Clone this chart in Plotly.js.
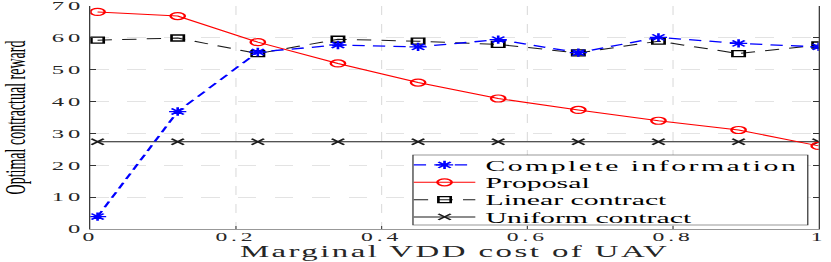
<!DOCTYPE html>
<html>
<head>
<meta charset="utf-8">
<script src="https://cdn.plot.ly/plotly-3.0.1.min.js"></script>
<style>
  html, body { margin: 0; padding: 0; overflow: hidden; background: #fff; }
  #chart { width: 405px; height: 262px; transform: scaleX(2.0519); transform-origin: 0 0; }
  .legendtext { letter-spacing: 1.2px; }
  .xtitle { letter-spacing: 1.2px; }
  .xtick text, .ytick text { letter-spacing: 1.9px; }
</style>
</head>
<body>
<div id="chart"></div>
<script>
// Data
const costX = [0.01, 0.12, 0.23, 0.34, 0.45, 0.56, 0.67, 0.78, 0.89, 1.0];
const completeInfo = [3.9, 36.9, 55.6, 57.8, 57.2, 59.5, 55.4, 60.2, 58.3, 57.2];
const proposal = [68.2, 66.9, 58.7, 52.0, 46.0, 41.0, 37.4, 34.0, 31.1, 26.1];
const linearContract = [59.3, 60.0, 55.1, 59.6, 59.0, 58.0, 55.3, 59.0, 55.1, 57.8];
const uniformContract = [27.4, 27.4, 27.4, 27.4, 27.4, 27.4, 27.4, 27.4, 27.4, 27.4];
const xTickVals = [0, 0.2, 0.4, 0.6, 0.8, 1];
const xTickText = ['0', '0.2', '0.4', '0.6', '0.8', '1'];
const yTickVals = [0, 10, 20, 30, 40, 50, 60, 70];
const yTickText = ['0', '10', '20', '30', '40', '50', '60', '70'];
const seriesNames = ['Complete information', 'Proposal', 'Linear contract', 'Uniform contract'];

const FONT = 'Liberation Serif, Times New Roman, serif';

const traces = [
  {
    x: costX, y: uniformContract, name: seriesNames[3], legend: 'legend4',
    mode: 'lines+markers', type: 'scatter',
    line: {color: '#1a1a1a', width: 1},
    marker: {symbol: 'x-thin-open', size: 6, color: '#1a1a1a', line: {color: '#1a1a1a', width: 1.3}}
  },
  {
    x: costX, y: linearContract, name: seriesNames[2], legend: 'legend3',
    mode: 'lines+markers', type: 'scatter',
    line: {color: '#1a1a1a', width: 1, dash: '7px,5px'},
    marker: {symbol: 'square-open', size: 6, color: '#000', line: {color: '#000', width: 1.3}}
  },
  {
    x: costX, y: proposal, name: seriesNames[1], legend: 'legend2',
    mode: 'lines+markers', type: 'scatter',
    line: {color: '#ff0000', width: 1},
    marker: {symbol: 'circle-open', size: 7, color: '#ff0000', line: {color: '#ff0000', width: 1.2}}
  },
  {
    x: costX, y: completeInfo, name: seriesNames[0], legend: 'legend',
    mode: 'lines+markers', type: 'scatter',
    line: {color: '#0000ff', width: 1.3, dash: '6px,4px'},
    marker: {symbol: 'asterisk-open', size: 7, color: '#0000ff', line: {color: '#0000ff', width: 1.3}}
  }
];

function legendRow(yCenter) {
  return {
    x: 0.43, xanchor: 'left', y: yCenter, yanchor: 'middle',
    bgcolor: 'rgba(0,0,0,0)', borderwidth: 0,
    font: {family: FONT, size: 14.5, color: '#000'},
    itemwidth: 30
  };
}

const layout = {
  width: 405, height: 262,
  margin: {l: 44.3, r: 6.4, t: 6, b: 33, pad: 0},
  paper_bgcolor: '#ffffff', plot_bgcolor: '#ffffff',
  font: {family: FONT, color: '#262626', size: 12},
  showlegend: true,
  legend: legendRow(0.287),
  legend2: legendRow(0.209),
  legend3: legendRow(0.131),
  legend4: legendRow(0.054),
  shapes: [{
    type: 'rect', xref: 'paper', yref: 'paper', layer: 'above',
    x0: 0.443, x1: 0.985, y0: 0.018, y1: 0.332,
    fillcolor: '#ffffff', line: {color: '#333333', width: 0.6}
  }],
  xaxis: {
    range: [0, 1], tickvals: xTickVals, ticktext: xTickText,
    showline: true, linecolor: '#333333', linewidth: 0.6, mirror: false,
    ticks: 'inside', ticklen: 3, tickwidth: 0.5, tickcolor: '#333333',
    showgrid: true, gridcolor: '#d9d9d9', griddash: 'dash', gridwidth: 0.5,
    zeroline: false, ticklabeloverflow: 'allow', ticklabelstandoff: -2,
    tickfont: {family: FONT, size: 11.5, color: '#262626'},
    title: {text: 'Marginal VDD cost of UAV', font: {family: FONT, size: 16, color: '#262626'}, standoff: 1}
  },
  yaxis: {
    range: [0, 70.05], tickvals: yTickVals, ticktext: yTickText,
    showline: true, linecolor: '#333333', linewidth: 0.6, mirror: 'ticks',
    ticks: 'inside', ticklen: 3, tickwidth: 1, tickcolor: '#333333',
    showgrid: true, gridcolor: '#e3e3e3', griddash: 'dash', gridwidth: 1,
    zeroline: false, ticklabeloverflow: 'allow',
    tickfont: {family: FONT, size: 12, color: '#262626'},
    title: {text: 'Optimal contractual reward', font: {family: FONT, size: 14, color: '#000'}, standoff: 11}
  }
};

Plotly.newPlot('chart', traces, layout, {displayModeBar: false, staticPlot: true});
</script>
</body>
</html>
